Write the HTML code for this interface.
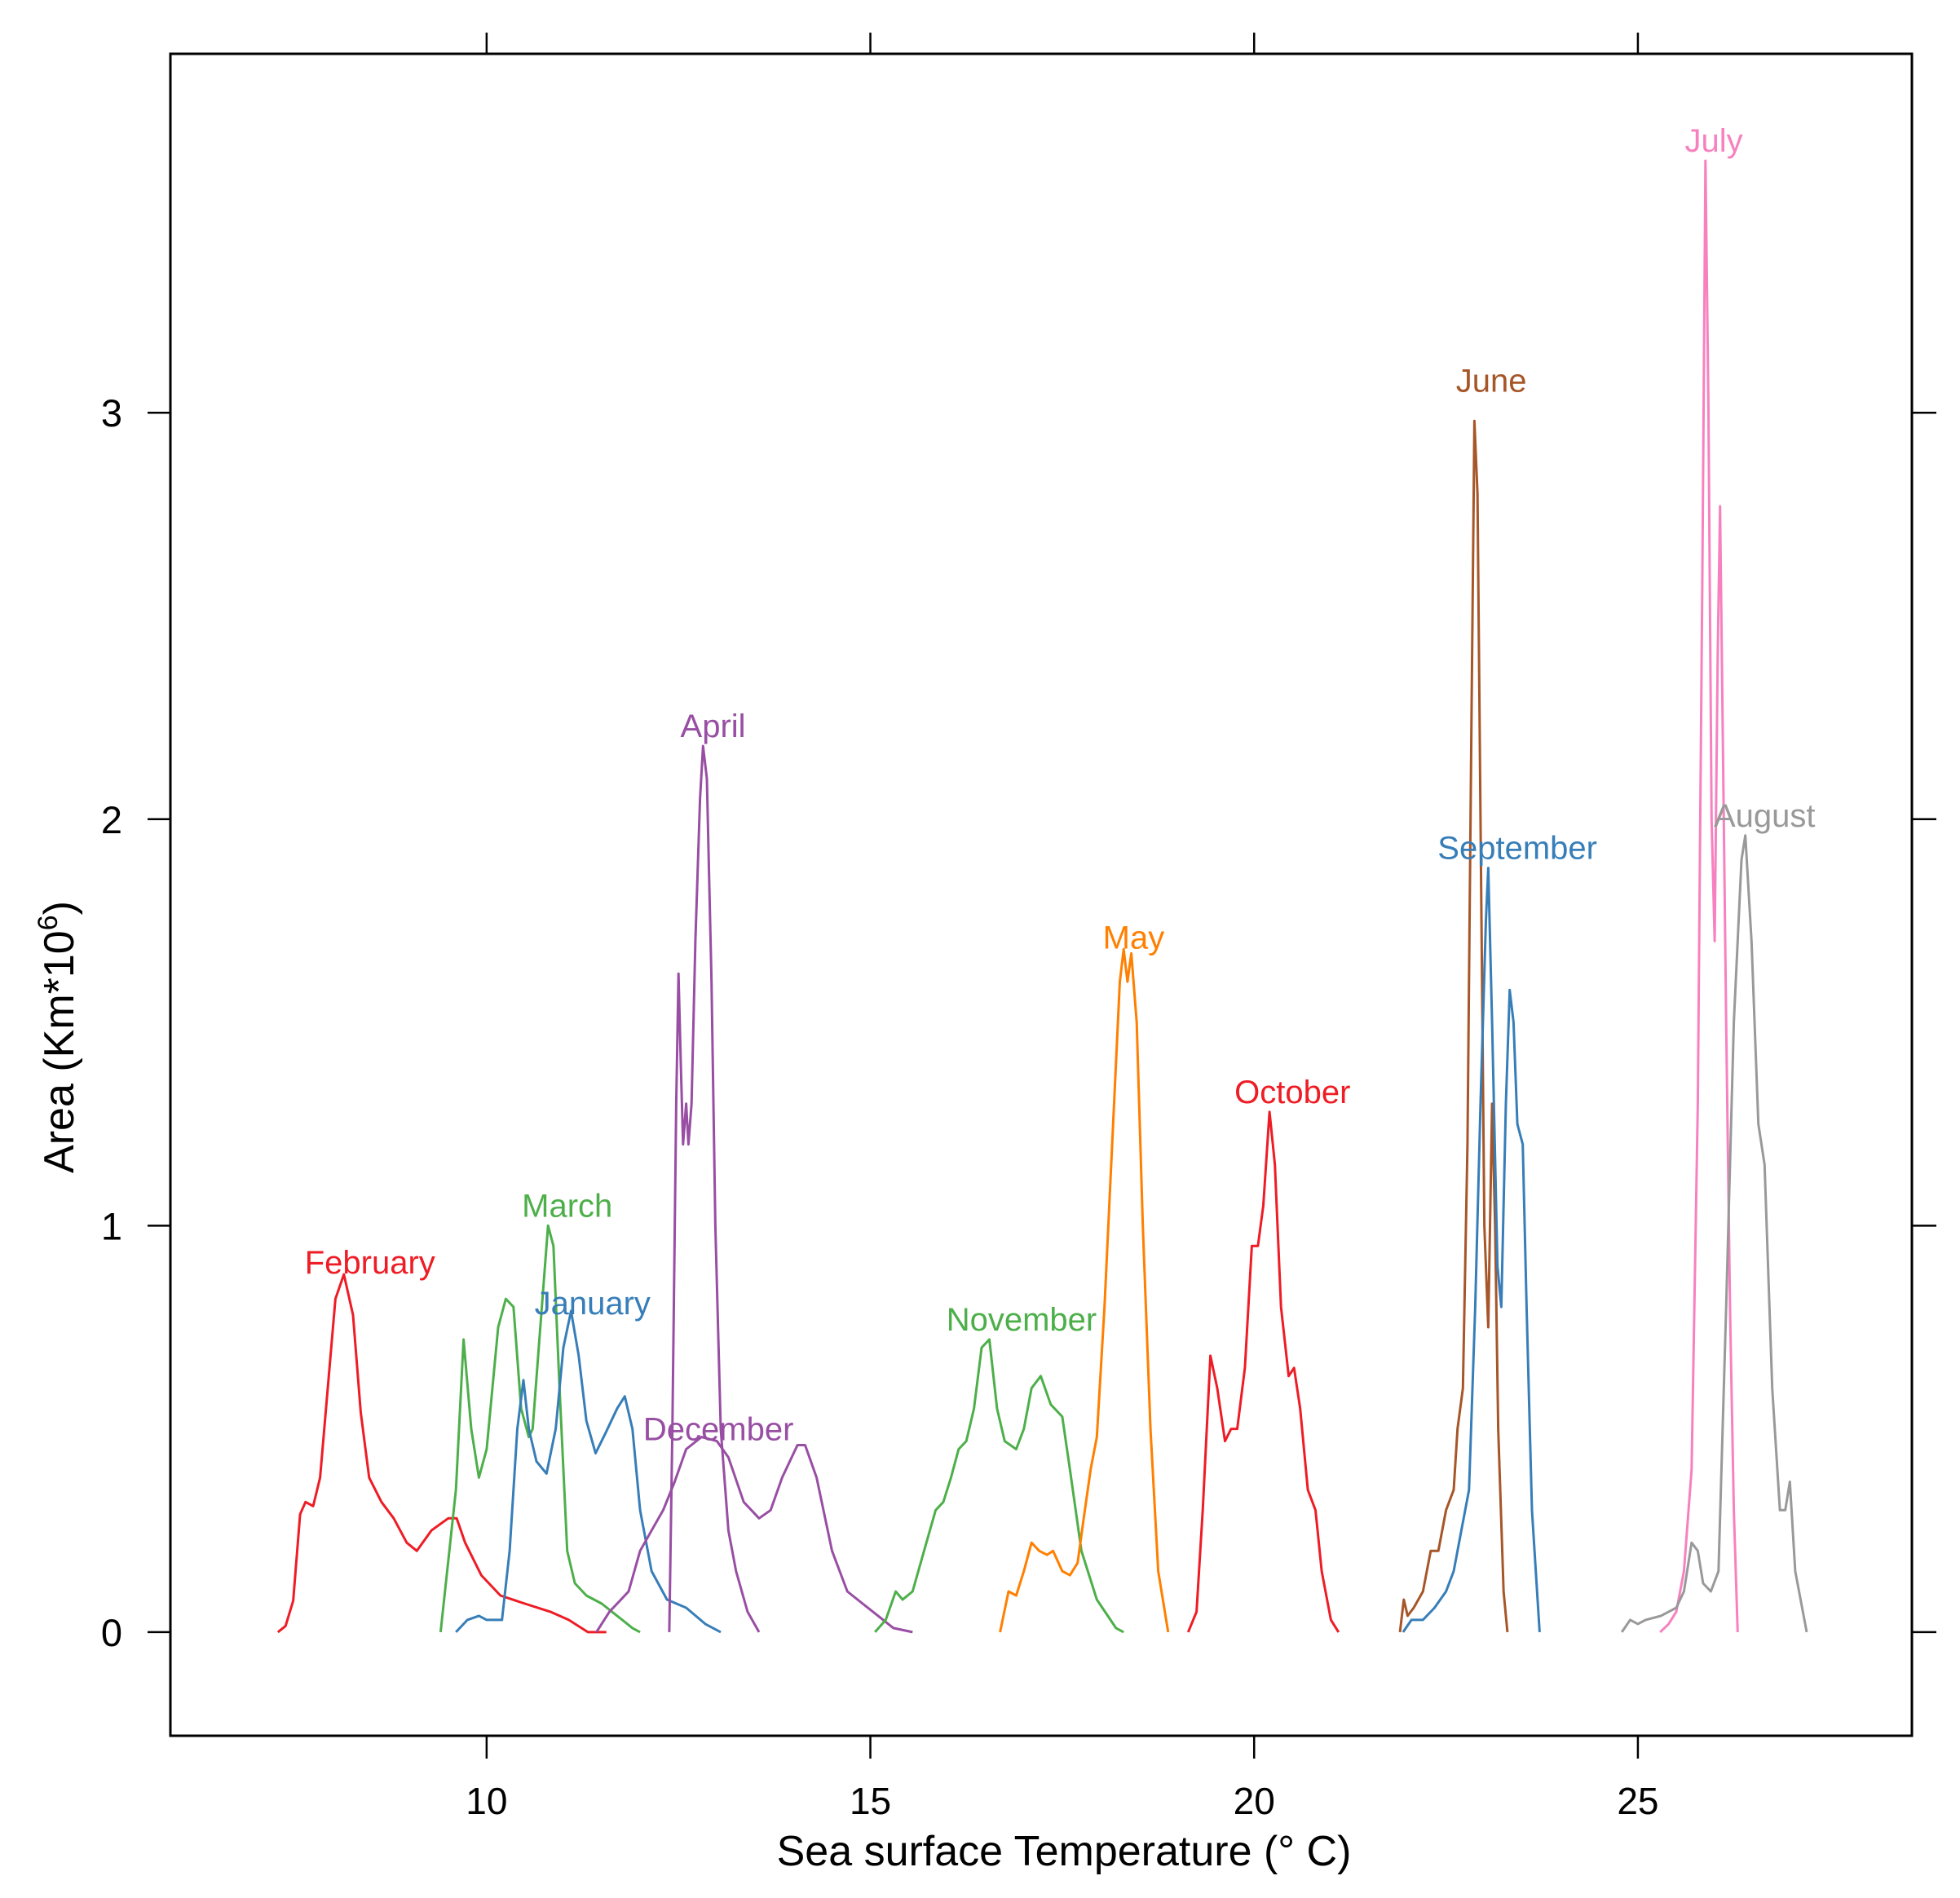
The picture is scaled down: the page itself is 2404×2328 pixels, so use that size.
<!DOCTYPE html>
<html><head><meta charset="utf-8"><style>
html,body{margin:0;padding:0;background:#fff;}
svg{display:block;font-family:"Liberation Sans",Arial,sans-serif;}
</style></head><body>
<svg id="chart" width="2404" height="2328" viewBox="0 0 2404 2328" xmlns="http://www.w3.org/2000/svg">
<rect x="0" y="0" width="2404" height="2328" fill="#fff"/>
<g id="axes"></g>
<g id="series"></g>
<g id="labels"></g>
<text x="1305" y="2288" font-size="52" text-anchor="middle">Sea surface Temperature (° C)</text>
<text transform="translate(90,1272) rotate(-90)" font-size="52" text-anchor="middle">Area (Km*10<tspan font-size="34" dy="-20">6</tspan><tspan dy="20">)</tspan></text>
</svg>
<script>
const xTicks=[10,15,20,25];
const yTicks=[0,1,2,3];
const monthNames=["February","March","January","December","April","November","May","October","June","September","July","August"];
const monthColors=["#ee1c25","#4daf4a","#377eb8","#984ea3","#984ea3","#4daf4a","#ff7f00","#ee1c25","#a65628","#377eb8","#f781bf","#999999"];
const febT=[7.28,7.38,7.48,7.57,7.64,7.74,7.83,7.93,8.03,8.14,8.26,8.36,8.47,8.63,8.79,8.96,9.09,9.28,9.5,9.61,9.72,9.93,10.18,10.5,10.83,11.07,11.32,11.56];
const febA=[0,0.015,0.077,0.29,0.32,0.31,0.38,0.6,0.82,0.88,0.78,0.54,0.38,0.32,0.28,0.22,0.2,0.25,0.28,0.28,0.22,0.14,0.09,0.07,0.05,0.03,0,0];
const marT=[9.4,9.6,9.7,9.8,9.9,10,10.15,10.25,10.35,10.45,10.55,10.6,10.7,10.8,10.87,10.95,11.05,11.15,11.3,11.5,11.7,11.9,12];
const marA=[0,0.35,0.72,0.5,0.38,0.45,0.75,0.82,0.8,0.55,0.48,0.5,0.75,1.0,0.95,0.6,0.2,0.12,0.09,0.07,0.04,0.01,0];
const janT=[9.6,9.75,9.9,10,10.2,10.3,10.4,10.48,10.55,10.65,10.78,10.9,11,11.1,11.2,11.3,11.42,11.55,11.7,11.8,11.9,12,12.15,12.35,12.6,12.85,13.05];
const janA=[0,0.03,0.04,0.03,0.03,0.2,0.5,0.62,0.5,0.42,0.39,0.5,0.7,0.79,0.68,0.52,0.44,0.49,0.55,0.58,0.5,0.3,0.15,0.08,0.06,0.02,0];
const decT=[11.43,11.6,11.7,11.85,12,12.15,12.3,12.45,12.6,12.8,13,13.15,13.35,13.55,13.7,13.85,14.05,14.15,14.3,14.5,14.7,14.9,15.1,15.3,15.55];
const decA=[0,0.05,0.07,0.1,0.2,0.25,0.3,0.37,0.45,0.48,0.47,0.43,0.32,0.28,0.3,0.38,0.46,0.46,0.38,0.2,0.1,0.07,0.04,0.01,0];
const aprT=[12.38,12.42,12.47,12.5,12.53,12.56,12.6,12.63,12.67,12.72,12.78,12.82,12.87,12.93,12.98,13.05,13.15,13.25,13.4,13.55];
const aprA=[0,0.5,1.3,1.62,1.4,1.2,1.3,1.2,1.3,1.7,2.05,2.18,2.1,1.6,1.0,0.5,0.25,0.15,0.05,0];
const novT=[15.06,15.2,15.33,15.42,15.55,15.7,15.85,15.95,16.05,16.15,16.25,16.35,16.45,16.55,16.65,16.75,16.9,17,17.1,17.22,17.35,17.5,17.6,17.75,17.95,18.2,18.3];
const novA=[0,0.03,0.1,0.08,0.1,0.2,0.3,0.32,0.38,0.45,0.47,0.55,0.7,0.72,0.55,0.47,0.45,0.5,0.6,0.63,0.56,0.53,0.4,0.2,0.08,0.01,0];
const mayT=[16.69,16.8,16.9,17,17.1,17.2,17.3,17.38,17.5,17.6,17.7,17.78,17.87,17.95,18.05,18.15,18.25,18.3,18.35,18.4,18.47,18.55,18.65,18.75,18.88];
const mayA=[0,0.1,0.09,0.15,0.22,0.2,0.19,0.2,0.15,0.14,0.17,0.28,0.4,0.48,0.8,1.2,1.6,1.68,1.6,1.67,1.5,1.0,0.5,0.15,0];
const octT=[19.14,19.25,19.33,19.43,19.52,19.62,19.7,19.78,19.88,19.97,20.05,20.12,20.2,20.27,20.35,20.45,20.52,20.6,20.7,20.8,20.88,21,21.1];
const octA=[0,0.05,0.3,0.68,0.6,0.47,0.5,0.5,0.65,0.95,0.95,1.05,1.28,1.15,0.8,0.63,0.65,0.55,0.35,0.3,0.15,0.03,0];
const junT=[21.9,21.95,22,22.08,22.2,22.3,22.4,22.5,22.6,22.65,22.72,22.78,22.83,22.87,22.91,22.95,23,23.05,23.1,23.14,23.18,23.25,23.3];
const junA=[0,0.08,0.04,0.06,0.1,0.2,0.2,0.3,0.35,0.5,0.6,1.2,2.2,2.98,2.8,2.0,1.0,0.75,1.3,1.0,0.5,0.1,0];
const sepT=[21.94,22.05,22.2,22.35,22.5,22.6,22.7,22.8,22.88,22.95,23.02,23.05,23.1,23.17,23.22,23.28,23.33,23.38,23.43,23.5,23.55,23.62,23.72];
const sepA=[0,0.03,0.03,0.06,0.1,0.15,0.25,0.35,0.8,1.3,1.75,1.88,1.5,0.9,0.8,1.3,1.58,1.5,1.25,1.2,0.8,0.3,0];
const julT=[25.29,25.4,25.5,25.6,25.7,25.78,25.84,25.88,25.92,25.96,26,26.04,26.07,26.1,26.15,26.2,26.25,26.3];
const julA=[0,0.02,0.05,0.15,0.4,1.3,2.6,3.62,3.0,2.0,1.7,2.4,2.77,2.3,1.5,0.8,0.3,0];
const augT=[24.79,24.9,25,25.1,25.3,25.5,25.6,25.7,25.78,25.85,25.95,26.05,26.15,26.25,26.35,26.4,26.48,26.57,26.65,26.75,26.85,26.92,26.98,27.05,27.2];
const augA=[0,0.03,0.02,0.03,0.04,0.06,0.1,0.22,0.2,0.12,0.1,0.15,0.8,1.5,1.9,1.96,1.7,1.25,1.15,0.6,0.3,0.3,0.37,0.15,0];
const labelT=[8.48,11.05,11.38,13.02,12.95,16.97,18.43,20.5,23.09,23.43,25.99,26.65];
const labelA=[0.91,1.05,0.81,0.5,2.23,0.77,1.71,1.33,3.08,1.93,3.67,2.01];
const seriesT=[febT,marT,janT,decT,aprT,novT,mayT,octT,junT,sepT,julT,augT];
const seriesA=[febA,marA,janA,decA,aprA,novA,mayA,octA,junA,sepA,julA,augA];

const L=209,R=2345,T=66,B=2129;
const xMin=5.88,xMax=28.57,yMin=-0.255,yMax=3.883;
const sx=v=>L+(v-xMin)/(xMax-xMin)*(R-L);
const sy=v=>B-(v-yMin)/(yMax-yMin)*(B-T);
const NS="http://www.w3.org/2000/svg";
function mk(tag,attrs,parent){const e=document.createElementNS(NS,tag);for(const k in attrs)e.setAttribute(k,attrs[k]);parent.appendChild(e);return e;}
const axes=document.getElementById('axes');
const frame=mk('rect',{x:L,y:T,width:R-L,height:B-T,fill:'none',stroke:'#000','stroke-width':3},axes);


xTicks.forEach(t=>{
  const x=sx(t);
  const tb=mk('line',{x1:x,x2:x,y1:B,y2:B+28,stroke:'#000','stroke-width':2.5},axes);
  
  
  const tt=mk('line',{x1:x,x2:x,y1:T,y2:T-26,stroke:'#000','stroke-width':2.5},axes);
  
  
  const lb=mk('text',{x:x,y:B+96,'font-size':46,'text-anchor':'middle'},axes);
  lb.textContent=t;
  
  
});
yTicks.forEach(t=>{
  const y=sy(t);
  const tl=mk('line',{x1:L-28,x2:L,y1:y,y2:y,stroke:'#000','stroke-width':2.5},axes);
  
  
  const tr=mk('line',{x1:R,x2:R+30,y1:y,y2:y,stroke:'#000','stroke-width':2.5},axes);
  
  
  const lb=mk('text',{x:137,y:y+17,'font-size':47,'text-anchor':'middle'},axes);
  lb.textContent=t;
  
  
});
const sg=document.getElementById('series');
const lg=document.getElementById('labels');
seriesT.forEach((ts,i)=>{
  const d=ts.map((t,j)=>(j?'L':'M')+sx(t).toFixed(1)+','+sy(seriesA[i][j]).toFixed(1)).join(' ');
  const p=mk('path',{d:d,fill:'none',stroke:monthColors[i],'stroke-width':3,'stroke-linejoin':'round'},sg);
  
  
  const tx=mk('text',{x:sx(labelT[i]),y:sy(labelA[i])+14,'font-size':40,'text-anchor':'middle',fill:monthColors[i]},lg);
  tx.textContent=monthNames[i];
  
  
});
</script>
</body></html>
